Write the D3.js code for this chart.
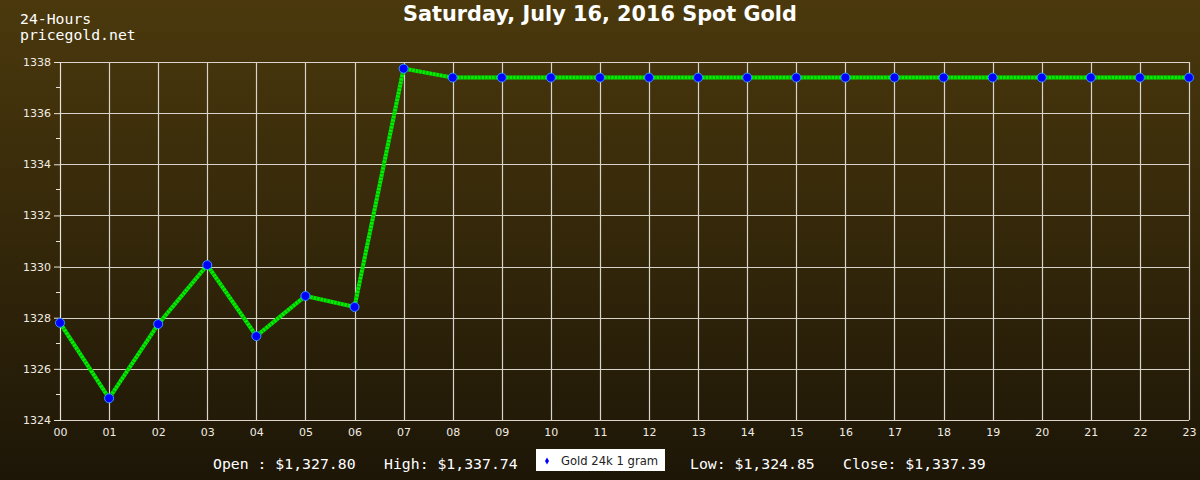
<!DOCTYPE html>
<html><head><meta charset="utf-8">
<script src="https://cdn.jsdelivr.net/npm/d3@7"></script>
<style>body{margin:0;background:#1e1707;} svg{display:block;}</style>
</head><body>
<svg id="c" width="1200" height="480"></svg>
<script>
const hours = ["00","01","02","03","04","05","06","07","08","09","10","11","12","13","14","15","16","17","18","19","20","21","22","23"];
const prices = [1327.80,1324.85,1327.75,1330.06,1327.28,1328.85,1328.42,1337.74,1337.39,1337.39,1337.39,1337.39,1337.39,1337.39,1337.39,1337.39,1337.39,1337.39,1337.39,1337.39,1337.39,1337.39,1337.39,1337.39];
const yTicks = [1324,1326,1328,1330,1332,1334,1336,1338];
const yMinor = [1325,1327,1329,1331,1333,1335,1337];
const titleText = "Saturday, July 16, 2016 Spot Gold";
const topLabels = ["24-Hours","pricegold.net"];
const stats = [["Open : $1,327.80",213],["High: $1,337.74",384],["Low: $1,324.85",690],["Close: $1,337.39",843]];
const legendLabel = "Gold 24k 1 gram";

const svg = d3.select("#c");
const defs = svg.append("defs");
const g = defs.append("linearGradient").attr("id","bg").attr("x1",0).attr("y1",0).attr("x2",0).attr("y2",1);
g.append("stop").attr("offset","0%").attr("stop-color","#4b390d");
g.append("stop").attr("offset","100%").attr("stop-color","#1d1607");
svg.append("rect").attr("width",1200).attr("height",480).attr("fill","url(#bg)");

const x = d3.scalePoint().domain(hours).range([60,1189]);
const y = d3.scaleLinear().domain([1324,1338]).range([420,62]);

// grid
svg.append("g").selectAll("line").data(hours).join("line")
  .attr("x1",d=>Math.round(x(d))+0.5).attr("x2",d=>Math.round(x(d))+0.5).attr("y1",62).attr("y2",420)
  .attr("stroke","#d8d4cc").attr("stroke-width",1.2);
svg.append("g").selectAll("line").data(yTicks).join("line")
  .attr("x1",60).attr("x2",1189).attr("y1",d=>Math.round(y(d))+0.5).attr("y2",d=>Math.round(y(d))+0.5)
  .attr("stroke","#d8d4cc").attr("stroke-width",1.2);

// y axis
const ya = svg.append("g").attr("transform","translate(60,0)")
  .call(d3.axisLeft(y).tickValues(yTicks).tickSize(6).tickPadding(3).tickFormat(d3.format("d")));
ya.select(".domain").attr("stroke","#e8e4dc");
ya.selectAll(".tick line").attr("stroke","#e8e4dc");
ya.selectAll("text").attr("fill","#f0ece4").attr("font-family","DejaVu Sans").attr("font-size",11);
svg.append("g").selectAll("line").data(yMinor).join("line")
  .attr("x1",56).attr("x2",60).attr("y1",d=>y(d)).attr("y2",d=>y(d))
  .attr("stroke","#e8e4dc").attr("shape-rendering","crispEdges");

// x axis
const xa = svg.append("g").attr("transform","translate(0,420)")
  .call(d3.axisBottom(x).tickSize(0).tickPadding(8));
xa.select(".domain").remove();
xa.selectAll("text").attr("fill","#f0ece4").attr("font-family","DejaVu Sans").attr("font-size",11);

// line
const line = d3.line().x((d,i)=>x(hours[i])).y(d=>y(d));
svg.append("path").datum(prices).attr("d",line).attr("fill","none")
  .attr("stroke","#00f000").attr("stroke-width",4);
svg.append("path").datum(prices).attr("d",line).attr("fill","none")
  .attr("stroke","#0c9a00").attr("stroke-width",4).attr("stroke-dasharray","1,2.5");

// points
svg.append("g").selectAll("circle").data(prices).join("circle")
  .attr("cx",(d,i)=>x(hours[i])).attr("cy",d=>y(d)).attr("r",4.5)
  .attr("fill","#0000ff").attr("stroke","#3399ff").attr("stroke-width",1);

// title
svg.append("text").attr("x",600).attr("y",21).attr("text-anchor","middle")
  .attr("font-family","DejaVu Sans").attr("font-weight","bold").attr("font-size",20.8)
  .attr("fill","#ffffff").text(titleText);
svg.append("g").selectAll("text").data(topLabels).join("text")
  .attr("x",20).attr("y",(d,i)=>23.5+i*16).attr("font-family","DejaVu Sans Mono")
  .attr("font-size",13.6).attr("fill","#ffffff")
  .attr("textLength",d=>d.length*8.9).attr("lengthAdjust","spacingAndGlyphs").text(d=>d);

// stats
svg.append("g").selectAll("text").data(stats).join("text")
  .attr("x",d=>d[1]).attr("y",469).attr("font-family","DejaVu Sans Mono")
  .attr("font-size",14.8).attr("fill","#ffffff").text(d=>d[0]);

// legend
svg.append("rect").attr("x",536).attr("y",449).attr("width",129).attr("height",22).attr("fill","#ffffff");
svg.append("path").attr("d",d3.symbol(d3.symbolDiamond,14)()).attr("transform","translate(547,461)").attr("fill","#0000ff");
svg.append("text").attr("x",561).attr("y",465).attr("font-family","DejaVu Sans").attr("font-size",11.6)
  .attr("fill","#222").text(legendLabel);
</script>
</body></html>
